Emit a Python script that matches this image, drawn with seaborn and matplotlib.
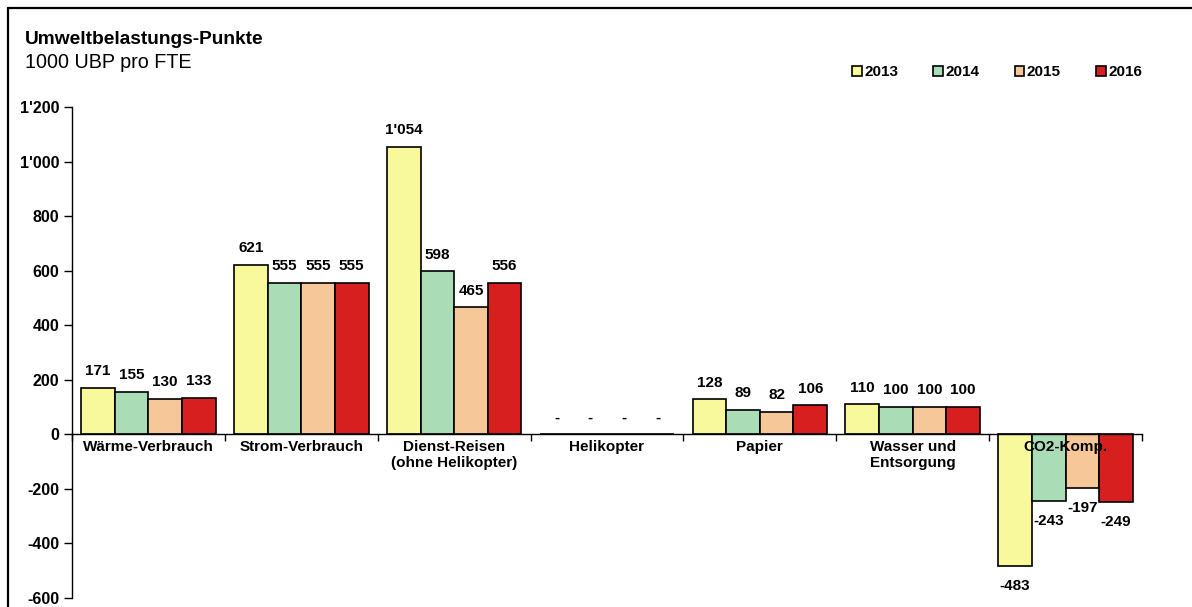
import matplotlib
matplotlib.use("Agg")
import matplotlib.pyplot as plt
import seaborn as sns
import pandas as pd
from matplotlib.lines import Line2D

categories = ["Wärme-Verbrauch", "Strom-Verbrauch", "Dienst-Reisen\n(ohne Helikopter)",
              "Helikopter", "Papier", "Wasser und\nEntsorgung", "CO2-Komp."]
years = ["2013", "2014", "2015", "2016"]
v2013 = [171, 621, 1054, 0, 128, 110, -483]
v2014 = [155, 555, 598, 0, 89, 100, -243]
v2015 = [130, 555, 465, 0, 82, 100, -197]
v2016 = [133, 555, 556, 0, 106, 100, -249]
yticks = [-600, -400, -200, 0, 200, 400, 600, 800, 1000, 1200]
colors = ["#F8F89C", "#AADDB6", "#F6C899", "#D81F1F"]

series = [v2013, v2014, v2015, v2016]
rows = []
for y, vals in zip(years, series):
    for c, v in zip(categories, vals):
        rows.append({"cat": c, "year": y, "val": v})
df = pd.DataFrame(rows)

sns.set_style("white")
plt.rcParams["font.family"] = ["Liberation Sans", "DejaVu Sans"]
plt.rcParams["text.color"] = "black"
plt.rcParams["axes.labelcolor"] = "black"
plt.rcParams["xtick.color"] = "black"
plt.rcParams["ytick.color"] = "black"

W, H = 1192, 607
fig = plt.figure(figsize=(W / 100, H / 100), dpi=100)
ax = fig.add_axes([72 / W, 1 - 598 / H, (1142 - 72) / W, (598 - 107) / H])

sns.barplot(data=df, x="cat", y="val", hue="year", palette=colors, order=categories,
            hue_order=years, edgecolor="black", linewidth=1.2, width=0.88, gap=0,
            saturation=1, ax=ax, errorbar=None)

ax.set_ylim(-600, 1200)
ax.set_xlim(-0.5, len(categories) - 0.5)
ax.set_xlabel("")
ax.set_ylabel("")
ax.set_axisbelow(False)

def fmt(v):
    if v == 0:
        return "-"
    s = f"{abs(v):,}".replace(",", "'")
    return ("-" if v < 0 else "") + s

ax.set_yticks(yticks)
ax.set_yticklabels([fmt(t) if t != 0 else "0" for t in yticks], fontsize=11.5, fontweight="bold")
ax.tick_params(axis="y", direction="out", length=6, width=1, pad=3, left=True, colors="black")

for s in ["top", "right"]:
    ax.spines[s].set_visible(False)
ax.spines["left"].set_color("black")
ax.spines["left"].set_linewidth(1)
ax.spines["bottom"].set_position(("data", 0))
ax.spines["bottom"].set_color("black")
ax.spines["bottom"].set_linewidth(1)
ax.set_xticks([i - 0.5 for i in range(len(categories) + 1)])
ax.set_xticklabels([])
ax.set_xticks(range(len(categories)), minor=True)
ax.set_xticklabels(categories, minor=True, fontsize=11, fontweight="bold")
ax.tick_params(axis="x", which="major", direction="out", length=5, width=1, bottom=True, colors="black")
ax.tick_params(axis="x", which="minor", length=0, pad=4, colors="black")

for cont, vals in zip(ax.containers, series):
    for patch, v in zip(cont.patches, vals):
        xc = patch.get_x() + patch.get_width() / 2
        if v >= 0:
            ax.annotate(fmt(v), (xc, v), xytext=(0, 12), textcoords="offset points",
                        ha="center", va="center", fontsize=11, fontweight="bold", color="black")
        else:
            ax.annotate(fmt(v), (xc, v), xytext=(0, -14.5), textcoords="offset points",
                        ha="center", va="center", fontsize=11, fontweight="bold", color="black")

leg = ax.legend(loc="center right", bbox_to_anchor=(1142 / W, 1 - 72 / H),
                bbox_transform=fig.transFigure, ncol=4, frameon=False,
                handlelength=0.65, handleheight=0.65, handletextpad=0.15,
                columnspacing=2.3, borderpad=0, borderaxespad=0,
                prop={"weight": "bold", "size": 11})
for t in leg.get_texts():
    t.set_color("black")

fig.text(25 / W, 1 - 40 / H, "Umweltbelastungs-Punkte", fontsize=13.8, fontweight="bold",
         ha="left", va="center", color="black")
fig.text(25 / W, 1 - 63 / H, "1000 UBP pro FTE", fontsize=14.2, ha="left", va="center",
         color="black")

fig.add_artist(Line2D([8 / W, 1], [1 - 8 / H, 1 - 8 / H], transform=fig.transFigure,
                      color="black", lw=1.6))
fig.add_artist(Line2D([8 / W, 8 / W], [0, 1 - 8 / H], transform=fig.transFigure,
                      color="black", lw=1.6))

fig.savefig("out.png", dpi=100)
